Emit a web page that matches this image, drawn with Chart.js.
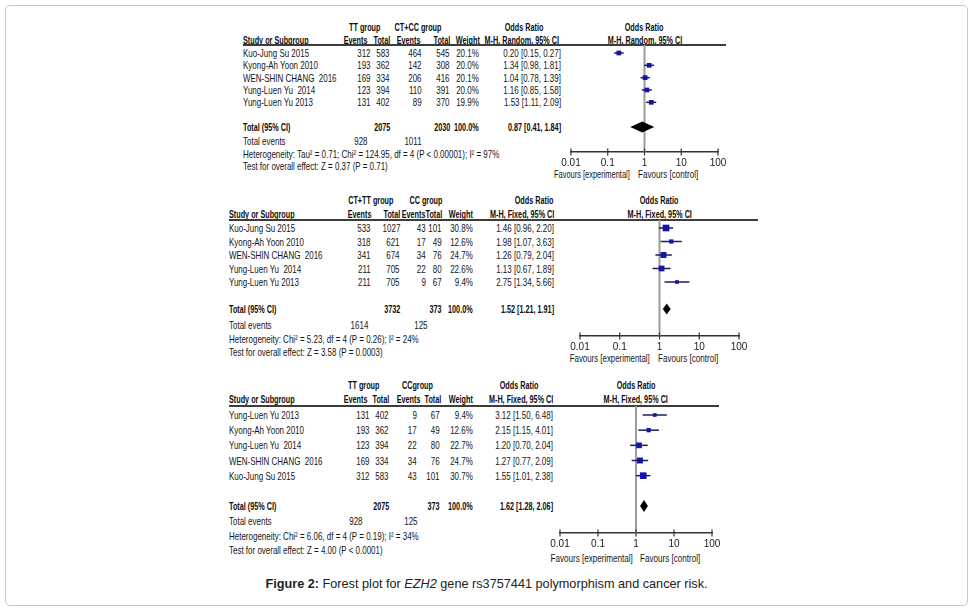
<!DOCTYPE html>
<html><head><meta charset="utf-8">
<script src="https://cdn.jsdelivr.net/npm/chart.js@4.4.1/dist/chart.umd.min.js"></script>
<style>
html,body{margin:0;padding:0;background:#fff;}
#page{position:relative;width:973px;height:614px;overflow:hidden;font-family:"Liberation Sans",Arial,sans-serif;font-size:10.5px;color:#151515;}
.t{position:absolute;white-space:pre;line-height:12px;height:12px;}
.t span{display:inline-block;transform:scaleX(0.76);}
.b{font-weight:bold;color:#0d0d0d;}
.b span{transform:scaleX(0.69);}
#frame{position:absolute;left:5px;top:5px;width:961px;height:599px;border:1.5px solid #c6c6c6;border-radius:5px;}
.hl{position:absolute;height:1.5px;background:#3c3c3c;}
.pc{position:absolute;}
#cap{position:absolute;left:0;width:973px;text-align:center;top:577px;font-family:"Liberation Sans",Arial,sans-serif;font-size:12.7px;color:#222;}
</style></head><body>
<div id="page"><div id="frame"></div>
<div id="cap"><b>Figure 2:</b> Forest plot for <i>EZH2</i> gene rs3757441 polymorphism and cancer risk.</div>
</div>
<script>
// ---------------- DATA ----------------
const xTicks = [0.01, 0.1, 1, 10, 100];
const rowIndex = [0, 1, 2, 3, 4];
const totalRowIndex = 6;

// Panel 1: TT vs CT+CC (random)
const p1Groups = ["TT group", "CT+CC group"];
const p1Method = "M-H, Random, 95% CI";
const p1Studies = ["Kuo-Jung Su 2015", "Kyong-Ah Yoon 2010", "WEN-SHIN CHANG  2016", "Yung-Luen Yu  2014", "Yung-Luen Yu 2013"];
const p1Events1 = [312, 193, 169, 123, 131];
const p1Total1 = [583, 362, 334, 394, 402];
const p1Events2 = [464, 142, 206, 110, 89];
const p1Total2 = [545, 308, 416, 391, 370];
const p1Weight = [20.1, 20.0, 20.1, 20.0, 19.9];
const p1OR = [0.20, 1.34, 1.04, 1.16, 1.53];
const p1Lo = [0.15, 0.98, 0.78, 0.85, 1.11];
const p1Hi = [0.27, 1.81, 1.39, 1.58, 2.09];
const p1Summary = [0.87, 0.41, 1.84];
const p1Totals = [2075, 2030];
const p1TotalEvents = [928, 1011];
const p1Het = "Heterogeneity: Tau\u00b2 = 0.71; Chi\u00b2 = 124.95, df = 4 (P < 0.00001); I\u00b2 = 97%";
const p1Test = "Test for overall effect: Z = 0.37 (P = 0.71)";

// Panel 2: CT+TT vs CC (fixed)
const p2Groups = ["CT+TT group", "CC group"];
const p2Method = "M-H, Fixed, 95% CI";
const p2Studies = ["Kuo-Jung Su 2015", "Kyong-Ah Yoon 2010", "WEN-SHIN CHANG  2016", "Yung-Luen Yu  2014", "Yung-Luen Yu 2013"];
const p2Events1 = [533, 318, 341, 211, 211];
const p2Total1 = [1027, 621, 674, 705, 705];
const p2Events2 = [43, 17, 34, 22, 9];
const p2Total2 = [101, 49, 76, 80, 67];
const p2Weight = [30.8, 12.6, 24.7, 22.6, 9.4];
const p2OR = [1.46, 1.98, 1.26, 1.13, 2.75];
const p2Lo = [0.96, 1.07, 0.79, 0.67, 1.34];
const p2Hi = [2.20, 3.63, 2.04, 1.89, 5.66];
const p2Summary = [1.52, 1.21, 1.91];
const p2Totals = [3732, 373];
const p2TotalEvents = [1614, 125];
const p2Het = "Heterogeneity: Chi\u00b2 = 5.23, df = 4 (P = 0.26); I\u00b2 = 24%";
const p2Test = "Test for overall effect: Z = 3.58 (P = 0.0003)";

// Panel 3: TT vs CC (fixed)
const p3Groups = ["TT group", "CCgroup"];
const p3Method = "M-H, Fixed, 95% CI";
const p3Studies = ["Yung-Luen Yu 2013", "Kyong-Ah Yoon 2010", "Yung-Luen Yu  2014", "WEN-SHIN CHANG  2016", "Kuo-Jung Su 2015"];
const p3Events1 = [131, 193, 123, 169, 312];
const p3Total1 = [402, 362, 394, 334, 583];
const p3Events2 = [9, 17, 22, 34, 43];
const p3Total2 = [67, 49, 80, 76, 101];
const p3Weight = [9.4, 12.6, 22.7, 24.7, 30.7];
const p3OR = [3.12, 2.15, 1.20, 1.27, 1.55];
const p3Lo = [1.50, 1.15, 0.70, 0.77, 1.01];
const p3Hi = [6.48, 4.01, 2.04, 2.09, 2.38];
const p3Summary = [1.62, 1.28, 2.06];
const p3Totals = [2075, 373];
const p3TotalEvents = [928, 125];
const p3Het = "Heterogeneity: Chi\u00b2 = 6.06, df = 4 (P = 0.19); I\u00b2 = 34%";
const p3Test = "Test for overall effect: Z = 4.00 (P < 0.0001)";

// ---------------- LAYOUT / STYLE ----------------
const FONT = '"Liberation Sans",Arial,sans-serif';
const L1 = {left:243, lineRight:726, hdr1:27, hdr2:39.5, line:45, row0:53, totalY:127, teY:141, hetY:154, testY:166,
  cols:[371,390,422,450,479,561], hcols:[367,390,420,450,480,559], grp:[365,418], orC:524, te:[368,422],
  plot:{x0:571, x1:718, top:45, axis:152}, favEnd:630, favStart:638, favY:174, favScale:[0.71,0.77], sq:1.05, diam:5.5};
const L2 = {left:229, lineRight:758, hdr1:200, hdr2:213.5, line:220, row0:228, totalY:309, teY:325, hetY:339, testY:352,
  cols:[371,400,426,442,473,554], hcols:[371,400,425,442,473,554], grp:[371,426], orC:534, te:[368,428],
  plot:{x0:580, x1:739, top:220, axis:336}, favEnd:650, favStart:658, favY:358, favScale:[0.75,0.77], sq:1.2, diam:5.5};
const L3 = {left:229, lineRight:719, hdr1:385, hdr2:399, line:406, row0:415, totalY:506, teY:521, hetY:536, testY:550,
  cols:[370,389,417,440,473,553], hcols:[367,389,420,441,473,553], grp:[364,417], orC:519, te:[363,418],
  plot:{x0:560, x1:712, top:406, axis:533}, favEnd:633, favStart:640, favY:558, favScale:[0.77,0.77], sq:1.2, diam:6};

const page = document.getElementById('page');
function T(s, x, y, align, bold, scale) {
  const d = document.createElement('div');
  d.className = 't' + (bold ? ' b' : '');
  const sp = document.createElement('span');
  sp.textContent = s;
  if (scale) sp.style.transform = 'scaleX(' + scale + ')';
  d.appendChild(sp);
  d.style.top = (y - 6) + 'px';
  if (align === 'left') { d.style.left = x + 'px'; sp.style.transformOrigin = 'left center'; }
  else if (align === 'right') { d.style.left = (x - 300) + 'px'; d.style.width = '300px'; d.style.textAlign = 'right'; sp.style.transformOrigin = 'right center'; }
  else { d.style.left = (x - 150) + 'px'; d.style.width = '300px'; d.style.textAlign = 'center'; sp.style.transformOrigin = 'center center'; }
  page.appendChild(d);
}
const f2 = v => v.toFixed(2);
const ci = (o, l, h) => `${f2(o)} [${f2(l)}, ${f2(h)}]`;

const forestPlugin = {
  id: 'forest',
  beforeDatasetsDraw(chart, args, opts) {
    const {ctx, chartArea, scales} = chart;
    const x = scales.x;
    const px = x.getPixelForValue(1);
    ctx.save();
    ctx.strokeStyle = '#9c9c9c'; ctx.lineWidth = 2;
    ctx.beginPath(); ctx.moveTo(px, chartArea.top); ctx.lineTo(px, chartArea.bottom); ctx.stroke();
    ctx.strokeStyle = '#333'; ctx.lineWidth = 1.2;
    x.ticks.forEach(t => {
      const tx = x.getPixelForValue(t.value);
      ctx.beginPath(); ctx.moveTo(tx, chartArea.bottom - 3.5); ctx.lineTo(tx, chartArea.bottom + 3.5); ctx.stroke();
    });
    ctx.restore();
  },
  afterDatasetsDraw(chart, args, opts) {
    const {ctx, scales} = chart;
    const x = scales.x, y = scales.y;
    const s = opts.summary;
    const cx = x.getPixelForValue(s[0]), l = x.getPixelForValue(s[1]), r = x.getPixelForValue(s[2]);
    const cy = y.getPixelForValue(opts.row);
    const h = opts.half;
    ctx.save(); ctx.fillStyle = '#000';
    ctx.beginPath(); ctx.moveTo(l, cy); ctx.lineTo(cx, cy - h); ctx.lineTo(r, cy); ctx.lineTo(cx, cy + h); ctx.closePath(); ctx.fill();
    ctx.restore();
  }
};

function panel(P, L) {
  const step = (L.totalY - L.row0) / totalRowIndex;
  T(P.groups[0], L.grp[0], L.hdr1, 'center', true);
  T(P.groups[1], L.grp[1], L.hdr1, 'center', true);
  T('Odds Ratio', L.orC, L.hdr1, 'center', true);
  const pxOne = L.plot.x0 + (L.plot.x1 - L.plot.x0) * 0.5;
  T('Odds Ratio', pxOne, L.hdr1, 'center', true);
  T('Study or Subgroup', L.left, L.hdr2, 'left', true);
  ['Events', 'Total', 'Events', 'Total', 'Weight'].forEach((h, i) => T(h, L.hcols[i], L.hdr2, 'right', true));
  T(P.method, L.hcols[5], L.hdr2, 'right', true);
  T(P.method, pxOne, L.hdr2, 'center', true);
  const hl = document.createElement('div'); hl.className = 'hl';
  hl.style.left = L.left + 'px'; hl.style.top = (L.line - 0.75) + 'px'; hl.style.width = (L.lineRight - L.left) + 'px';
  page.appendChild(hl);
  P.studies.forEach((name, i) => {
    const y = L.row0 + step * rowIndex[i];
    T(name, L.left, y, 'left');
    T(String(P.ev1[i]), L.cols[0], y, 'right');
    T(String(P.tot1[i]), L.cols[1], y, 'right');
    T(String(P.ev2[i]), L.cols[2], y, 'right');
    T(String(P.tot2[i]), L.cols[3], y, 'right');
    T(P.w[i].toFixed(1) + '%', L.cols[4], y, 'right');
    T(ci(P.or[i], P.lo[i], P.hi[i]), L.cols[5], y, 'right');
  });
  T('Total (95% CI)', L.left, L.totalY, 'left', true);
  T(String(P.totals[0]), L.cols[1], L.totalY, 'right', true);
  T(String(P.totals[1]), L.cols[3], L.totalY, 'right', true);
  T('100.0%', L.cols[4], L.totalY, 'right', true);
  T(ci(P.summary[0], P.summary[1], P.summary[2]), L.cols[5], L.totalY, 'right', true);
  T('Total events', L.left, L.teY, 'left');
  T(String(P.totalEvents[0]), L.te[0], L.teY, 'right');
  T(String(P.totalEvents[1]), L.te[1], L.teY, 'right');
  T(P.het, L.left, L.hetY, 'left');
  T(P.test, L.left, L.testY, 'left');
  T('Favours [experimental]', L.favEnd, L.favY, 'right', false, L.favScale[0]);
  T('Favours [control]', L.favStart, L.favY, 'left', false, L.favScale[1]);

  const padL = 20, padR = 20, padT = 6, bottomH = 20;
  const pl = L.plot;
  const W = (pl.x1 - pl.x0) + padL + padR;
  const H = (pl.axis - pl.top) + padT + bottomH;
  const box = document.createElement('div'); box.className = 'pc';
  box.style.left = (pl.x0 - padL) + 'px'; box.style.top = (pl.top - padT) + 'px';
  box.style.width = W + 'px'; box.style.height = H + 'px';
  const cv = document.createElement('canvas'); cv.width = W; cv.height = H;
  cv.style.width = W + 'px'; cv.style.height = H + 'px';
  box.appendChild(cv); page.appendChild(box);
  const yMin = -(L.row0 - pl.top) / step;
  const yMax = totalRowIndex + (pl.axis - L.totalY) / step;
  const ciSets = P.studies.map((n, i) => ({
    type: 'line', data: [{x: P.lo[i], y: rowIndex[i]}, {x: P.hi[i], y: rowIndex[i]}],
    borderColor: '#1b1b5e', borderWidth: 1.5, pointRadius: 0, fill: false, clip: false
  }));
  const squares = {
    type: 'scatter', data: P.or.map((v, i) => ({x: v, y: rowIndex[i]})),
    pointStyle: 'rect', backgroundColor: '#1212c4', borderWidth: 0, pointBorderWidth: 0,
    pointRadius: P.w.map(w => L.sq * Math.sqrt(w) / Math.SQRT2), clip: false
  };
  new Chart(cv, {
    type: 'scatter',
    data: {datasets: [...ciSets, squares]},
    options: {
      responsive: false, animation: false, events: [],
      layout: {padding: {left: padL, right: padR, top: padT, bottom: 0}, autoPadding: false},
      plugins: {legend: {display: false}, tooltip: {enabled: false},
        forest: {summary: P.summary, row: totalRowIndex, half: L.diam}},
      scales: {
        x: {type: 'logarithmic', min: xTicks[0], max: xTicks[xTicks.length - 1], position: 'bottom',
          afterBuildTicks: s => { s.ticks = xTicks.map(v => ({value: v})); },
          afterFit: s => { s.height = bottomH; },
          grid: {display: false, drawTicks: false, tickLength: 0}, border: {display: true, color: '#333', width: 1.5},
          ticks: {padding: 5, color: '#1a1a1a', font: {family: FONT, size: 10}, autoSkip: false, maxRotation: 0,
            callback: v => String(v)}},
        y: {type: 'linear', min: yMin, max: yMax, reverse: true, display: false}
      }
    },
    plugins: [forestPlugin]
  });
}

panel({groups: p1Groups, method: p1Method, studies: p1Studies, ev1: p1Events1, tot1: p1Total1, ev2: p1Events2, tot2: p1Total2,
  w: p1Weight, or: p1OR, lo: p1Lo, hi: p1Hi, summary: p1Summary, totals: p1Totals, totalEvents: p1TotalEvents, het: p1Het, test: p1Test}, L1);
panel({groups: p2Groups, method: p2Method, studies: p2Studies, ev1: p2Events1, tot1: p2Total1, ev2: p2Events2, tot2: p2Total2,
  w: p2Weight, or: p2OR, lo: p2Lo, hi: p2Hi, summary: p2Summary, totals: p2Totals, totalEvents: p2TotalEvents, het: p2Het, test: p2Test}, L2);
panel({groups: p3Groups, method: p3Method, studies: p3Studies, ev1: p3Events1, tot1: p3Total1, ev2: p3Events2, tot2: p3Total2,
  w: p3Weight, or: p3OR, lo: p3Lo, hi: p3Hi, summary: p3Summary, totals: p3Totals, totalEvents: p3TotalEvents, het: p3Het, test: p3Test}, L3);
</script>
</body></html>
